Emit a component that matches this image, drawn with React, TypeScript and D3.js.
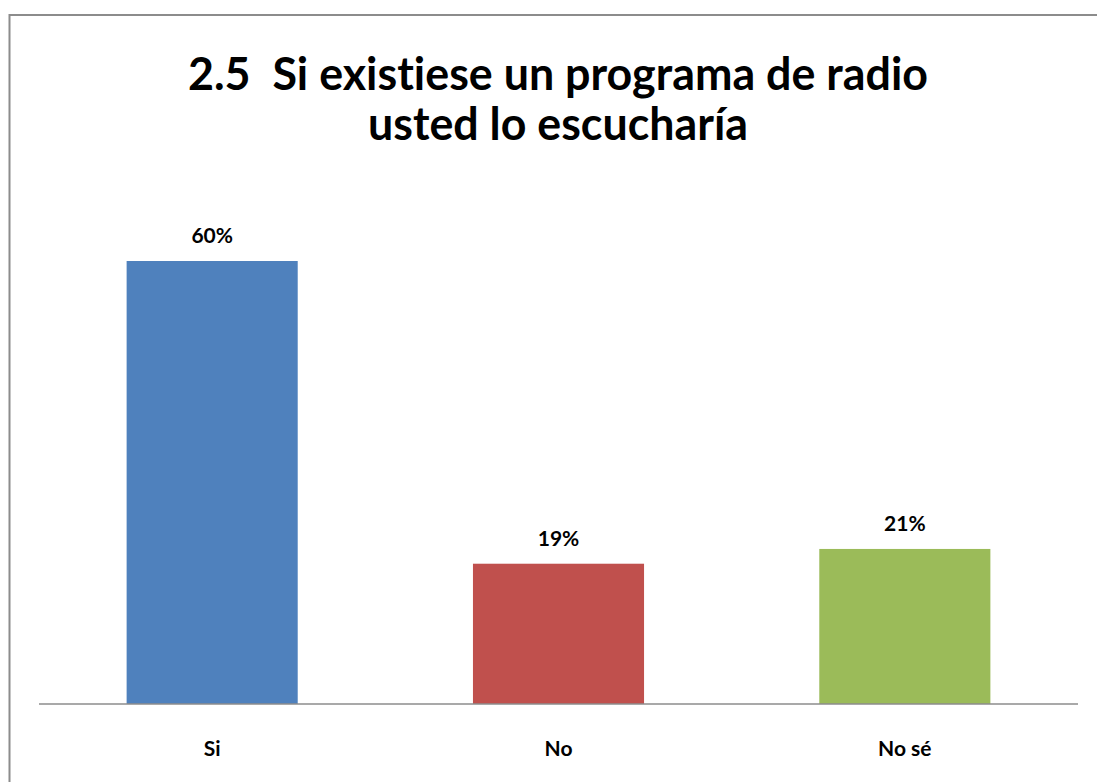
import React from "react";
import * as d3 from "d3";

const categories = ["Si", "No", "No sé"];
const values = [60, 19, 21];
const valueLabels = ["60%", "19%", "21%"];
const colors = ["#4F81BD", "#C0504D", "#9BBB59"];
const titleLines = ["2.5  Si existiese un programa de radio", "usted lo escucharía"];

export default function App() {
  const W = 1097, H = 782;
  const plotLeft = 39, plotRight = 1078, baseline = 704;
  const x = d3.scaleBand<string>().domain(categories).range([plotLeft, plotRight]).paddingInner(0.506).paddingOuter(0.253);
  const y = d3.scaleLinear().domain([0, 60]).range([baseline, 261]);
  const font = "Lato, 'Open Sans', sans-serif";
  const textStyle = { fontVariantLigatures: "none" as const, whiteSpace: "pre" as const };
  return (
    <svg width={W} height={H} style={{ position: "absolute", left: 0, top: 0, background: "#fff" }}>
      <rect x={9.5} y={15} width={W + 20} height={H + 20} fill="#fff" stroke="#8c8c8c" strokeWidth={2} />
      <text x={558} y={90} textAnchor="middle" fontFamily={font} fontWeight="bold" fontSize={45} fill="#000" textLength={740} lengthAdjust="spacingAndGlyphs" style={textStyle}>{titleLines[0]}</text>
      <text x={558} y={140} textAnchor="middle" fontFamily={font} fontWeight="bold" fontSize={45} fill="#000" textLength={380} lengthAdjust="spacingAndGlyphs" style={textStyle}>{titleLines[1]}</text>
      {categories.map((c, i) => (
        <g key={c}>
          <rect x={x(c)} y={y(values[i])} width={x.bandwidth()} height={baseline - y(values[i])} fill={colors[i]} />
          <text x={(x(c) as number) + x.bandwidth() / 2} y={y(values[i]) - 18} textAnchor="middle" fontFamily={font} fontWeight="bold" fontSize={21} fill="#000" style={textStyle}>{valueLabels[i]}</text>
          <text x={(x(c) as number) + x.bandwidth() / 2} y={756} textAnchor="middle" fontFamily={font} fontWeight="bold" fontSize={21} fill="#000" style={textStyle}>{c}</text>
        </g>
      ))}
      <line x1={plotLeft} x2={plotRight} y1={baseline} y2={baseline} stroke="#8c8c8c" strokeWidth={1.5} />
    </svg>
  );
}
